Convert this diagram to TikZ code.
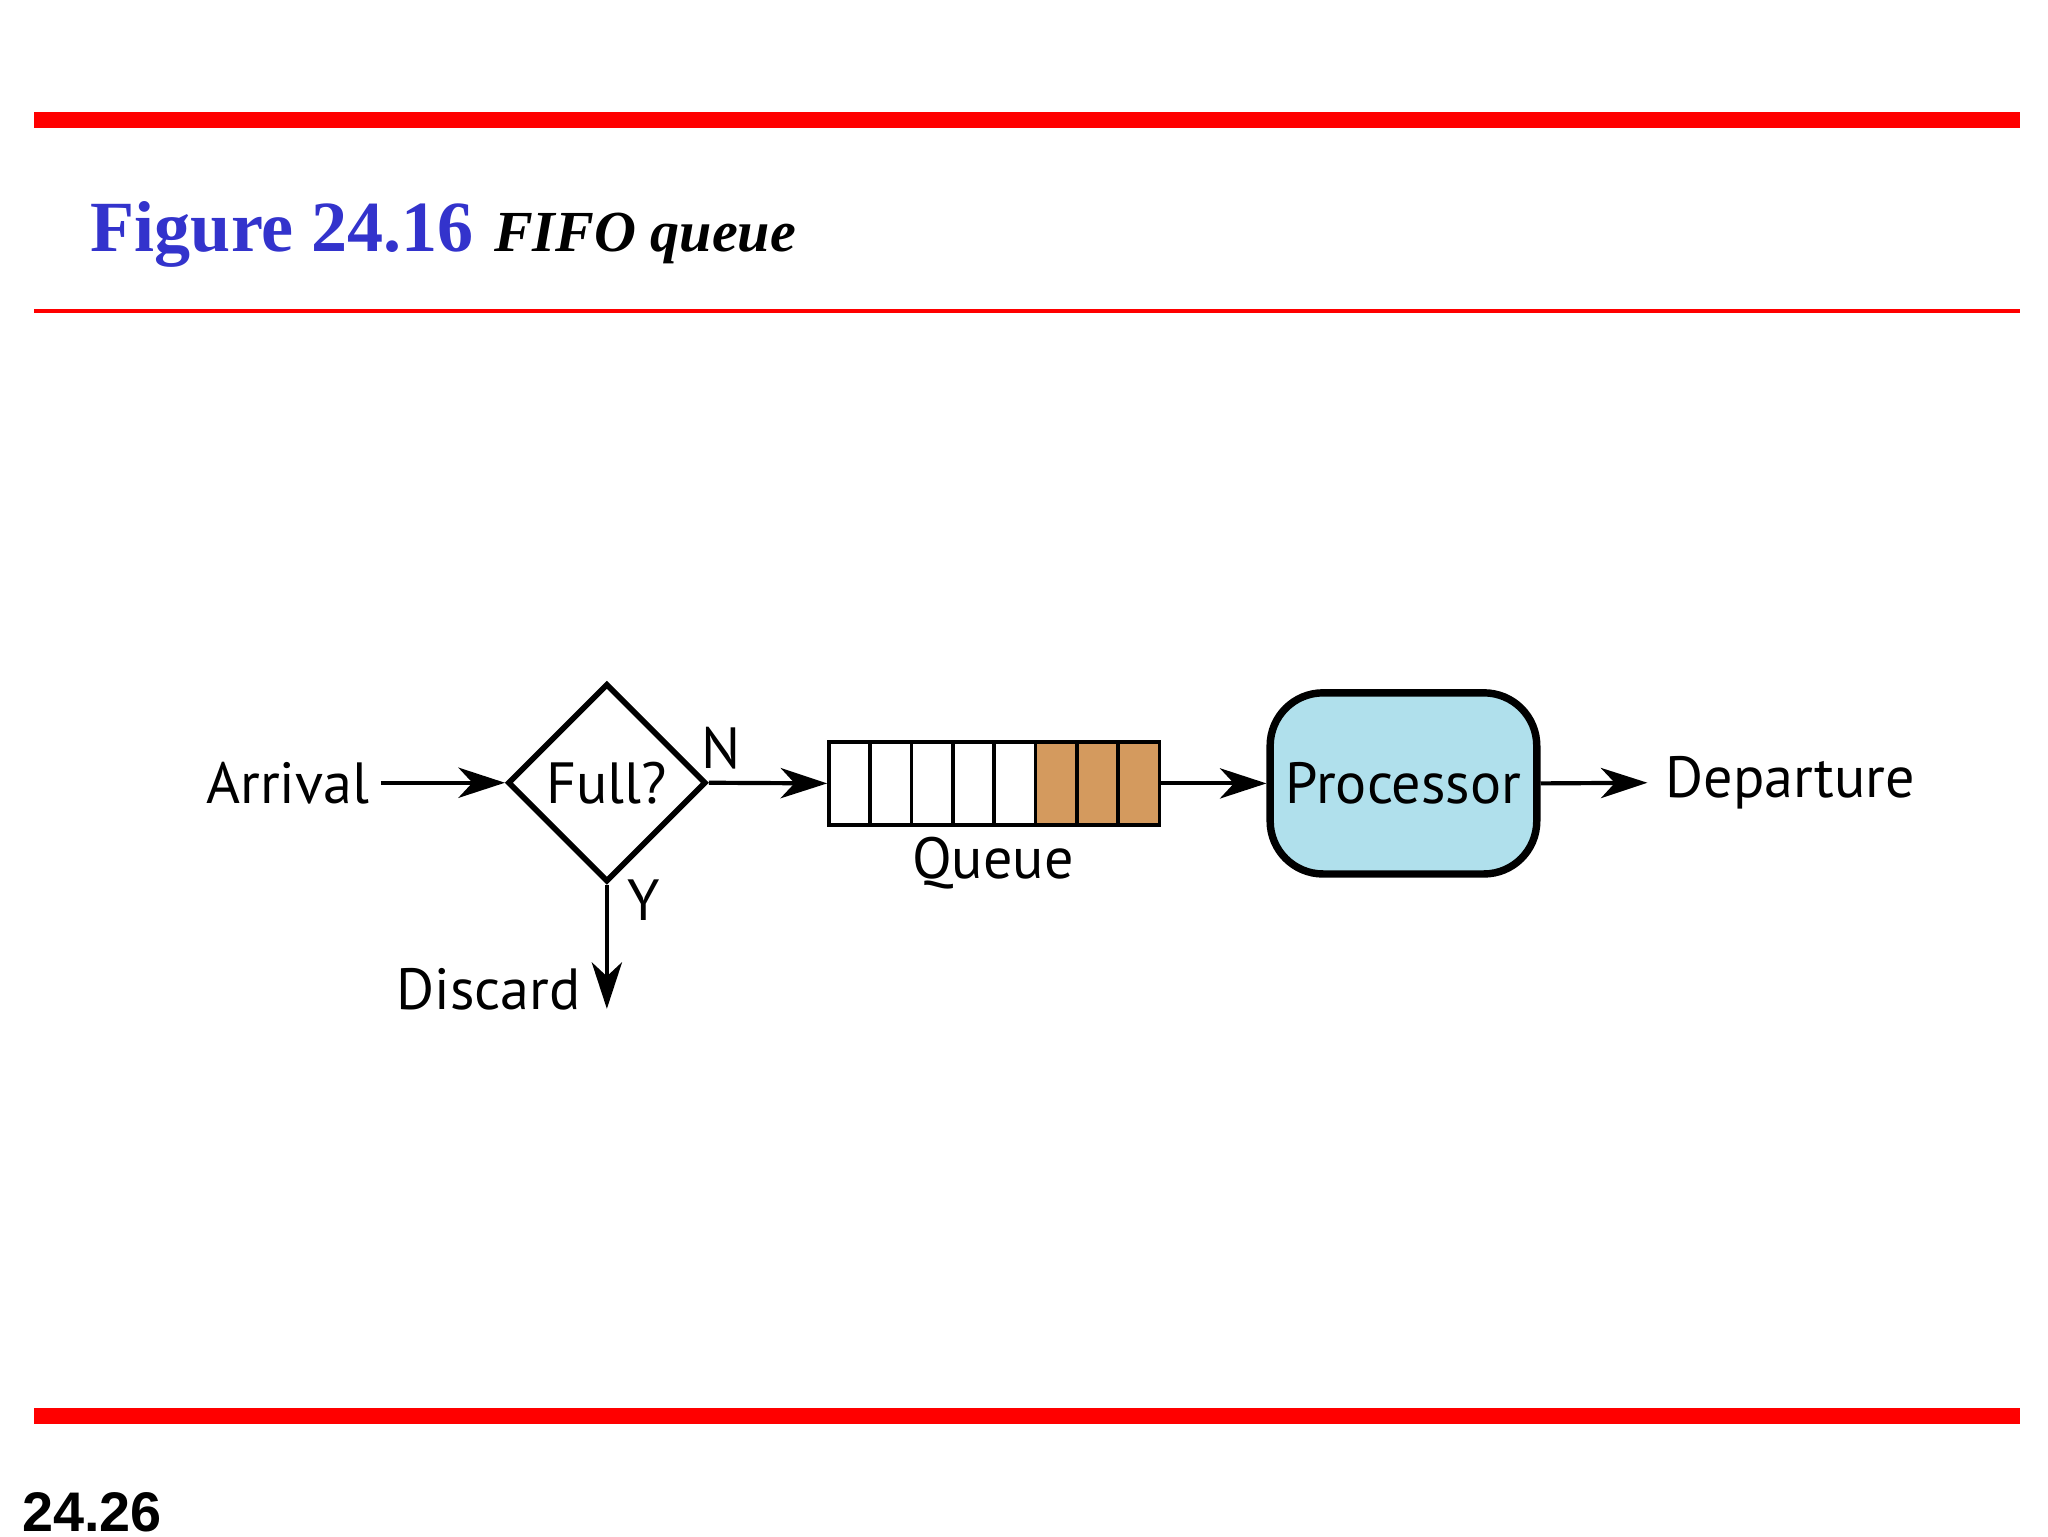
\documentclass[tikz,border=0pt]{standalone}
\usepackage{fontspec}
\setmainfont{Liberation Serif}
\newfontfamily\diag{PT Sans}
\newfontfamily\arial{Liberation Sans}
\usetikzlibrary{arrows.meta,shapes.geometric}
\definecolor{barred}{RGB}{255,0,0}
\definecolor{ttl}{RGB}{51,51,204}
\definecolor{tan}{RGB}{212,154,94}
\definecolor{lblue}{RGB}{176,224,236}
\begin{document}
\begin{tikzpicture}[x=0.01cm,y=-0.01cm,
  lbl/.style={font=\diag\fontsize{12.5}{14}\selectfont},
  arr/.style={line width=0.9pt,-{Stealth[length=10pt,width=6.5pt,inset=3pt]}},
  cell/.style={draw,line width=0.8pt,minimum width=31.25*0.01cm,minimum height=63*0.01cm,inner sep=0pt}]
\useasboundingbox (0,0) rectangle (1549,1162);
\fill[barred] (26,85) rectangle (1528,97);
\fill[barred] (26,233.5) rectangle (1528,236.5);
\fill[barred] (26,1065) rectangle (1528,1077);
\node[anchor=base west,inner sep=0,text=ttl,font=\bfseries\fontsize{15.5}{18}\selectfont] (t1) at (68,190) {Figure 24.16};
\node[anchor=base west,inner sep=0,font=\bfseries\itshape\fontsize{12.5}{15}\selectfont] (t2) at (373,190) {FIFO queue};
\node[anchor=base west,inner sep=0,font=\arial\bfseries\fontsize{12}{14}\selectfont] (pg) at (16,1158) {24.26};
% nodes
\node[lbl,anchor=east,inner sep=0] (arrv) at (280,592) {Arrival};
\node[diamond,draw,line width=1.2pt,minimum width=150*0.01cm,minimum height=150*0.01cm,inner sep=0,lbl] (full) at (459,592) {Full?};
\node[lbl,inner sep=0] (n) at (545,566) {N};
\node[lbl,inner sep=0] (y) at (487,681) {Y};
\foreach \i in {0,...,7}{
  \pgfmathsetmacro\cx{627+31.25*\i+15.625}
  \ifnum\i>4 \node[cell,fill=tan] (c\i) at (\cx,592.5) {};
  \else \node[cell,fill=white] (c\i) at (\cx,592.5) {}; \fi
}
\node[lbl,inner sep=0] (q) at (751,653) {Queue};
\node[draw,line width=1.6pt,fill=lblue,rounded corners=40*0.01cm,minimum width=181*0.01cm,minimum height=137*0.01cm,lbl] (proc) at (1061.5,592.5) {Processor};
\node[lbl,anchor=west,inner sep=0] (dep) at (1259,592) {Departure};
\node[lbl,anchor=east,inner sep=0] (disc) at (440,748) {Discard};
\coordinate (a0) at (288,592);
\coordinate (dend) at (459,763);
\coordinate (dend2) at (1246,592);
% connectors
\draw[arr] (a0) -- (full.west);
\draw[arr] (full.east) -- (c0.west);
\draw[arr] (c7.east) -- (proc.west);
\draw[arr] (proc.east) -- (dend2);
\draw[arr] (full.south) -- (dend);
\end{tikzpicture}
\end{document}
